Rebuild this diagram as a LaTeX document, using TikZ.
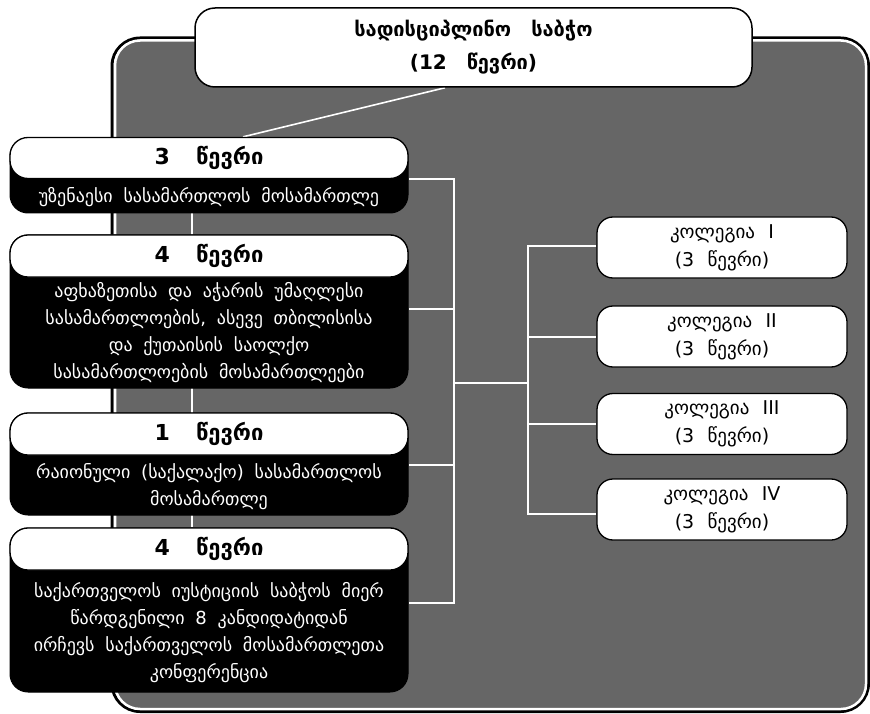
\documentclass[tikz,border=0pt]{standalone}
\usepackage{fontspec}
\setmainfont{DejaVu Sans}
\definecolor{panelgray}{HTML}{666666}
\pgfdeclarelayer{bg}
\pgfdeclarelayer{wires}
\pgfsetlayers{bg,wires,main}
\begin{document}
\begin{tikzpicture}[x=1pt,y=-1pt,
  blackbody/.style={fill=black, draw=black, line width=1pt, rounded corners=18pt,
    minimum width=398pt, inner sep=0pt},
  whitehead/.style={fill=white, draw=black, line width=1.3pt, rounded corners=18pt,
    minimum width=398pt, minimum height=41pt, inner sep=0pt,
    font={\fontsize{22}{24}\bfseries\selectfont\spaceskip=1.2em}},
  bodytext/.style={text=white, align=center, inner sep=0pt,
    font={\fontsize{18}{27}\selectfont\spaceskip=0.6em plus 0.1em}},
  kbox/.style={fill=white, draw=black, line width=1.3pt, rounded corners=16pt,
    minimum width=250pt, minimum height=61pt, align=center, inner sep=0pt,
    font={\fontsize{19}{28}\selectfont\spaceskip=0.7em}},
  topbox/.style={fill=white, draw=black, line width=1.5pt, rounded corners=20pt,
    minimum width=557pt, minimum height=79pt, align=center, inner sep=0pt,
    font={\fontsize{20}{33}\bfseries\selectfont\spaceskip=1em}},
  wire/.style={draw=white, line width=1.6pt}
]
\useasboundingbox (0,0) rectangle (870,714);

% background panel
\begin{pgfonlayer}{bg}
  \draw[line width=3pt, draw=black, rounded corners=28pt] (112,38) rectangle (868.5,711.5);
  \draw[line width=2.5pt, draw=white, fill=panelgray, rounded corners=25pt] (115,40.5) rectangle (866,709);
\end{pgfonlayer}

% top box
\node[topbox] (top) at (473.5,47.5) {სადისციპლინო საბჭო\\(12 წევრი)};

% left boxes
\node[blackbody, minimum height=75pt]  (b1) at (209,175.5) {};
\node[whitehead] (h1) at (209,158) {3 წევრი};
\node[bodytext]  (t1) at (209,197) {უზენაესი სასამართლოს მოსამართლე};

\node[blackbody, minimum height=153pt] (b2) at (209,311.5) {};
\node[whitehead, minimum height=42pt] (h2) at (209,256) {4 წევრი};
\node[bodytext]  (t2) at (209,333) {აფხაზეთისა და აჭარის უმაღლესი\\სასამართლოების, ასევე თბილისისა\\და ქუთაისის საოლქო\\სასამართლოების მოსამართლეები};

\node[blackbody, minimum height=102pt] (b3) at (209,464) {};
\node[whitehead, minimum height=42pt] (h3) at (209,434) {1 წევრი};
\node[bodytext]  (t3) at (209,487) {რაიონული (საქალაქო) სასამართლოს\\მოსამართლე};

\node[blackbody, minimum height=164pt] (b4) at (209,610) {};
\node[whitehead, minimum height=42pt] (h4) at (209,549) {4 წევრი};
\node[bodytext]  (t4) at (209,633) {საქართველოს იუსტიციის საბჭოს მიერ\\წარდგენილი 8 კანდიდატიდან\\ირჩევს საქართველოს მოსამართლეთა\\კონფერენცია};

% right boxes
\node[kbox] (k1) at (722,247.5) {კოლეგია I\\(3 წევრი)};
\node[kbox] (k2) at (722,336.5) {კოლეგია II\\(3 წევრი)};
\node[kbox] (k3) at (722,424) {კოლეგია III\\(3 წევრი)};
\node[kbox] (k4) at (722,509.5) {კოლეგია IV\\(3 წევრი)};

% junction coordinates
\coordinate (L1) at (454,179);
\coordinate (L2) at (454,309);
\coordinate (L3) at (454,465);
\coordinate (L4) at (454,603);
\coordinate (LM) at (454,383);
\coordinate (RM) at (528,383);
\coordinate (R1) at (528,246);
\coordinate (R2) at (528,337);
\coordinate (R3) at (528,424);
\coordinate (R4) at (528,514);

\begin{pgfonlayer}{wires}
  \draw[wire] ([xshift=-28.5pt]top.south) -- ([xshift=34pt]h1.north);
  \draw[wire] ([xshift=-17pt]b1.south) -- ([xshift=-17pt]h4.north);
  \draw[wire] (L1 -| b1.east) -- (L1) -- (L4) -- (L4 -| b4.east);
  \draw[wire] (L2 -| b2.east) -- (L2);
  \draw[wire] (L3 -| b3.east) -- (L3);
  \draw[wire] (LM) -- (RM);
  \draw[wire] (R1 -| k1.west) -- (R1) -- (R4) -- (R4 -| k4.west);
  \draw[wire] (R2) -- (R2 -| k2.west);
  \draw[wire] (R3) -- (R3 -| k3.west);
\end{pgfonlayer}
\end{tikzpicture}
\end{document}
